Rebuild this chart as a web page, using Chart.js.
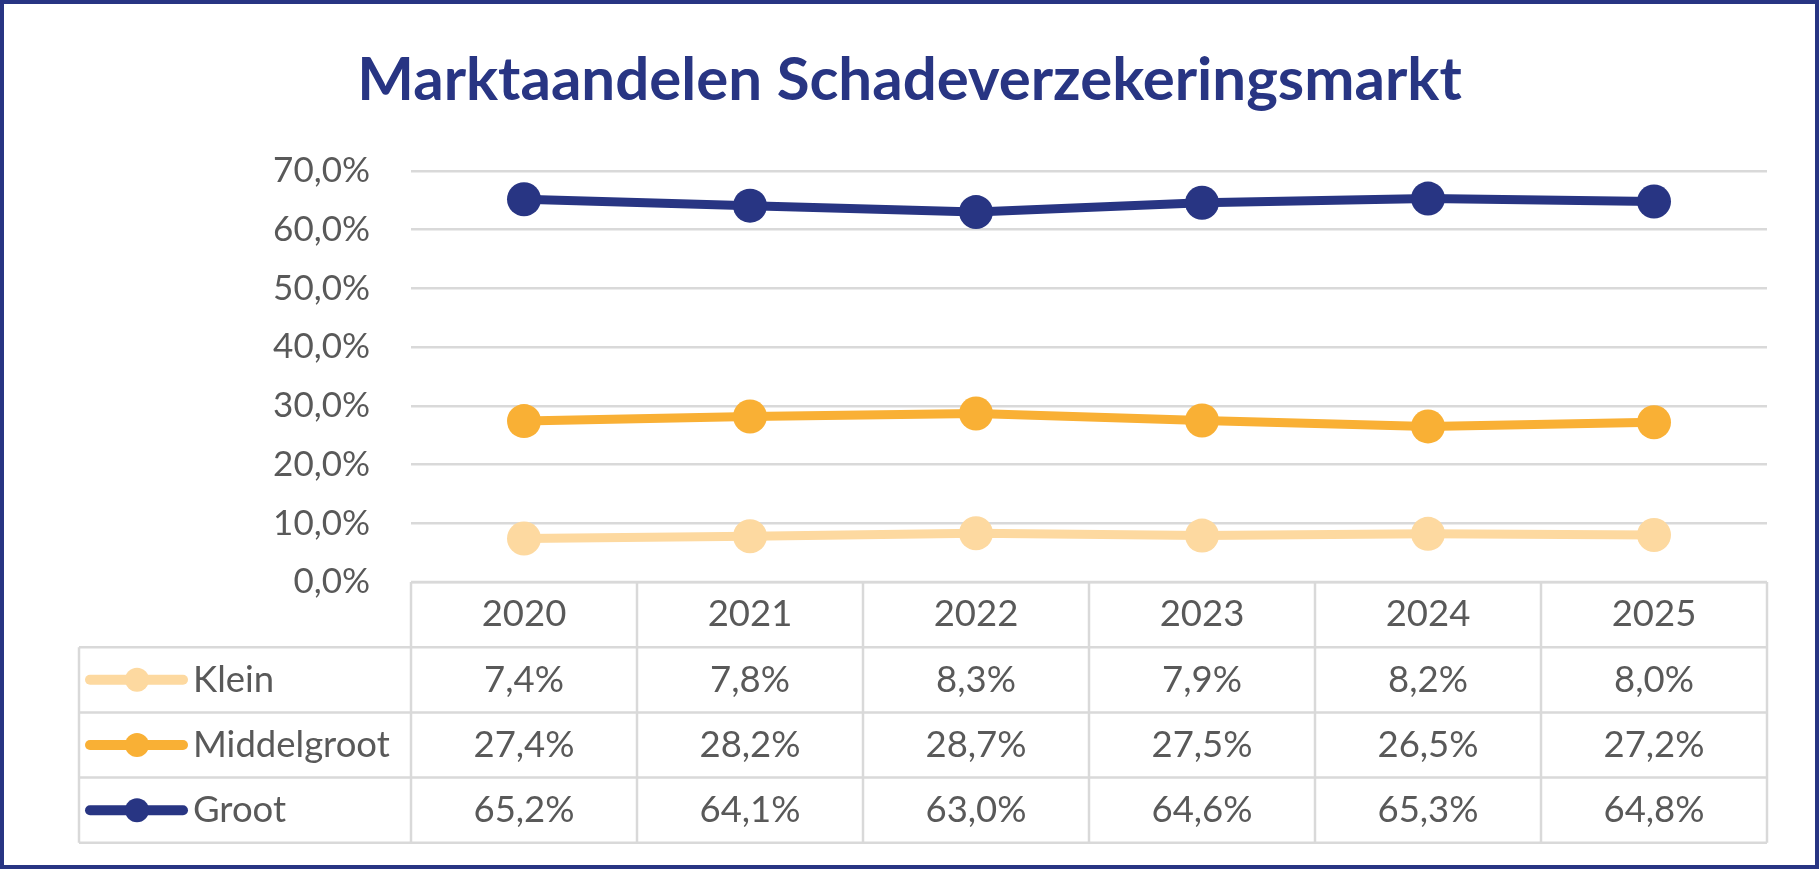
<!DOCTYPE html>
<html lang="nl">
<head>
<meta charset="utf-8">
<title>Marktaandelen Schadeverzekeringsmarkt</title>
<script src="https://cdn.jsdelivr.net/npm/chart.js@4.4.1/dist/chart.umd.min.js"></script>
<style>
  html, body { margin: 0; padding: 0; background: #fff; }
  #wrap { position: relative; width: 1819px; height: 869px; }
</style>
</head>
<body>
<div id="wrap"><canvas id="chart"></canvas></div>
<script>
// data
const years = ['2020', '2021', '2022', '2023', '2024', '2025'];
const klein = [7.4, 7.8, 8.3, 7.9, 8.2, 8.0];
const middelgroot = [27.4, 28.2, 28.7, 27.5, 26.5, 27.2];
const groot = [65.2, 64.1, 63.0, 64.6, 65.3, 64.8];
const seriesNames = ['Klein', 'Middelgroot', 'Groot'];
const yTicks = [0, 10, 20, 30, 40, 50, 60, 70];

const NAVY = '#283583';
const ORANGE = '#F9B035';
const PEACH = '#FDD9A0';
const GRID = '#D9D9D9';
const TEXT = '#595959';
const FONT = 'Lato, "Open Sans", sans-serif';

const pct = v => v.toFixed(1).replace('.', ',') + '%';

// Excel-style data table under the plot, plus the outer frame
const dataTablePlugin = {
  id: 'dataTable',
  afterDraw(chart) {
    const ctx = chart.ctx;
    const area = chart.chartArea;
    const xScale = chart.scales.x;
    const colW = (area.right - area.left) / years.length;
    const rowH = 65.2;
    const tableLeft = 79;
    const top = area.bottom;
    const rows = chart.data.datasets;

    ctx.save();
    ctx.strokeStyle = GRID;
    ctx.lineWidth = 2.5;
    ctx.beginPath();
    // horizontal rules
    ctx.moveTo(area.left, top);
    ctx.lineTo(area.right, top);
    for (let r = 1; r <= rows.length + 1; r++) {
      ctx.moveTo(tableLeft, top + r * rowH);
      ctx.lineTo(area.right, top + r * rowH);
    }
    // vertical rules
    ctx.moveTo(tableLeft, top + rowH);
    ctx.lineTo(tableLeft, top + (rows.length + 1) * rowH);
    for (let c = 0; c <= years.length; c++) {
      const x = area.left + c * colW;
      ctx.moveTo(x, top);
      ctx.lineTo(x, top + (rows.length + 1) * rowH);
    }
    ctx.stroke();

    ctx.fillStyle = TEXT;
    ctx.font = '36.5px ' + FONT;
    ctx.textAlign = 'center';
    ctx.textBaseline = 'middle';
    years.forEach((yr, i) => {
      ctx.fillText(yr, xScale.getPixelForValue(i), top + rowH / 2);
    });

    rows.forEach((ds, r) => {
      const cy = top + (r + 1.5) * rowH;
      ds.data.forEach((v, i) => {
        ctx.fillStyle = TEXT;
        ctx.textAlign = 'center';
        ctx.fillText(pct(v), xScale.getPixelForValue(i), cy);
      });
      // legend key
      ctx.strokeStyle = ds.borderColor;
      ctx.lineWidth = 10;
      ctx.lineCap = 'round';
      ctx.beginPath();
      ctx.moveTo(90, cy);
      ctx.lineTo(183, cy);
      ctx.stroke();
      ctx.fillStyle = ds.borderColor;
      ctx.beginPath();
      ctx.arc(137, cy, 12, 0, Math.PI * 2);
      ctx.fill();
      ctx.fillStyle = TEXT;
      ctx.textAlign = 'left';
      ctx.fillText(ds.label, 193, cy);
    });

    // frame
    ctx.strokeStyle = NAVY;
    ctx.lineWidth = 4;
    ctx.strokeRect(2, 2, chart.width - 4, chart.height - 4);
    ctx.restore();
  }
};

const lineStyle = color => ({
  borderColor: color,
  backgroundColor: color,
  borderWidth: 9,
  pointRadius: 17,
  pointBorderWidth: 0,
  pointHoverRadius: 17,
  tension: 0,
  fill: false
});

const ctx = document.getElementById('chart').getContext('2d');
new Chart(ctx, {
  type: 'line',
  data: {
    labels: years,
    datasets: [
      { label: seriesNames[0], data: klein, ...lineStyle(PEACH) },
      { label: seriesNames[1], data: middelgroot, ...lineStyle(ORANGE) },
      { label: seriesNames[2], data: groot, ...lineStyle(NAVY) }
    ]
  },
  options: {
    responsive: true,
    maintainAspectRatio: false,
    animation: false,
    // symmetric side padding keeps the title centred on the canvas
    layout: { padding: { left: 52, right: 52, top: 0, bottom: 287 } },
    scales: {
      x: {
        type: 'category',
        offset: true,
        display: false
      },
      y: {
        min: 0,
        max: 70,
        afterFit: scale => { scale.width = 359; },
        afterBuildTicks: scale => { scale.ticks = yTicks.map(v => ({ value: v })); },
        border: { display: false },
        grid: { color: GRID, lineWidth: 2.5, drawTicks: false },
        ticks: {
          padding: 41,
          color: TEXT,
          font: { family: FONT, size: 35 },
          callback: v => pct(v)
        }
      }
    },
    plugins: {
      legend: { display: false },
      tooltip: { enabled: false },
      title: {
        display: true,
        text: 'Marktaandelen Schadeverzekeringsmarkt',
        color: NAVY,
        font: { family: FONT, size: 60, weight: 'bold' },
        padding: { top: 45, bottom: 54 }
      }
    }
  },
  plugins: [dataTablePlugin]
});
</script>
</body>
</html>
